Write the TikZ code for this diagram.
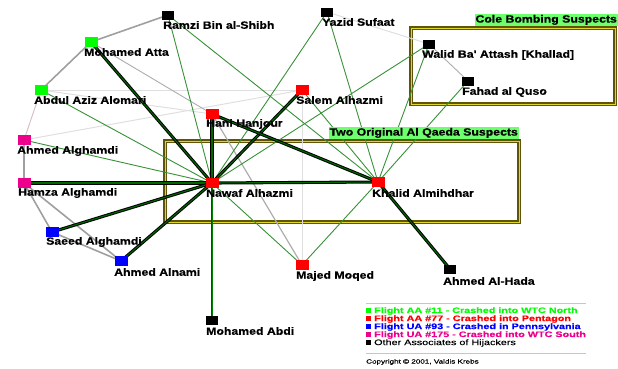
\documentclass[tikz,border=0pt]{standalone}
\usepackage{fontspec}
\setmainfont{Liberation Sans}
\newfontfamily\namefont[FakeStretch=1.17, FakeBold=0.6]{Liberation Sans Bold}
\newfontfamily\keyfont[FakeStretch=1.35, FakeBold=0.4]{Liberation Sans}
\usepackage{tikz}

\definecolor{flightgreen}{RGB}{0,255,0}
\definecolor{linkgreen}{RGB}{55,145,55}
\definecolor{boxolive}{RGB}{95,85,5}
\definecolor{tagbg}{RGB}{110,255,110}

\pgfdeclarelayer{frames}
\pgfdeclarelayer{links}
\pgfsetlayers{frames,links,main}

\tikzset{
  hij/.style={rectangle, inner sep=0pt, minimum width=13pt, minimum height=10pt, fill=#1},
  assoc/.style={rectangle, inner sep=0pt, minimum width=12pt, minimum height=9pt, fill=black},
  nm/.style={anchor=west, inner sep=0pt, font=\namefont\fontsize{10.5}{11}\selectfont},
  weak/.style={linkgreen, line width=0.9pt},
  strong/.style={draw=black, line width=1pt, double=green!40!black, double distance=1.1pt},
  mid/.style={draw=black!80, line width=0.6pt, double=green!50!black, double distance=0.9pt},
  tie/.style={gray!75, line width=1.6pt},
  thintie/.style={gray!65, line width=0.9pt},
  faint/.style={gray!25, line width=1pt},
  group/.style={draw=boxolive, line width=1.4pt, double=yellow!65!olive!80, double distance=0.9pt},
  tag/.style={fill=tagbg, inner sep=1pt, font=\namefont\fontsize{10.5}{11}\selectfont},
  keyline/.style={anchor=west, inner sep=0pt, font=\keyfont\fontsize{8}{8}\selectfont\bfseries},
  keyrule/.style={gray!45, line width=0.8pt}
}

\begin{document}
\begin{tikzpicture}[x=1pt,y=-1pt]
    \useasboundingbox (0,0) rectangle (618,368);

    % hijackers, coloured by flight
    \node [hij=flightgreen] (atta) at (91,42) {};
    \node [hij=flightgreen] (alomari) at (41,90) {};
    \node [hij=red] (hanjour) at (212,114) {};
    \node [hij=red] (salem) at (302,90) {};
    \node [hij=red] (nawaf) at (212,183) {};
    \node [hij=red] (khalid) at (378,182) {};
    \node [hij=red] (moqed) at (302,265) {};
    \node [hij=magenta] (ahmedg) at (24,140) {};
    \node [hij=magenta] (hamza) at (24,183) {};
    \node [hij=blue] (saeed) at (52,232) {};
    \node [hij=blue] (alnami) at (121,261) {};
    % associates
    \node [assoc] (ramzi) at (168,15) {};
    \node [assoc] (yazid) at (327,12) {};
    \node [assoc] (walid) at (429,44) {};
    \node [assoc] (fahad) at (468,81) {};
    \node [assoc] (abdi) at (212,320) {};
    \node [assoc] (hada) at (450,269) {};

    % names
    \node [nm] (ramzi-l) at (163,25) {Ramzi Bin al-Shibh};
    \node [nm] (yazid-l) at (322,22) {Yazid Sufaat};
    \node [nm] (atta-l) at (84,52) {Mohamed Atta};
    \node [nm] (alomari-l) at (34,100) {Abdul Aziz Alomari};
    \node [nm] (hanjour-l) at (206,124) {Hani Hanjour};
    \node [nm] (salem-l) at (296,100) {Salem Alhazmi};
    \node [nm] (ahmedg-l) at (17,151) {Ahmed Alghamdi};
    \node [nm] (hamza-l) at (18,193) {Hamza Alghamdi};
    \node [nm] (nawaf-l) at (206,193) {Nawaf Alhazmi};
    \node [nm] (khalid-l) at (372,193) {Khalid Almihdhar};
    \node [nm] (saeed-l) at (46,242) {Saeed Alghamdi};
    \node [nm] (alnami-l) at (114,272) {Ahmed Alnami};
    \node [nm] (moqed-l) at (296,276) {Majed Moqed};
    \node [nm] (abdi-l) at (206,331) {Mohamed Abdi};
    \node [nm] (hada-l) at (443,281) {Ahmed Al-Hada};
    \node [nm] (walid-l) at (422,55) {Walid Ba' Attash [Khallad]};
    \node [nm] (fahad-l) at (462,92) {Fahad al Quso};

    % suspect groups
    \begin{pgfonlayer}{frames}
    \draw [group] (165,141) rectangle (519,222);
    \draw [group] (411,28) rectangle (615,104);
    \end{pgfonlayer}
    \node [tag, anchor=south east] (alqaeda-t) at (519,139) {Two Original Al Qaeda Suspects};
    \node [tag, anchor=south east] (cole-t) at (618,26) {Cole Bombing Suspects};

    \begin{pgfonlayer}{links}
    % weak ties
    \draw [faint] (alomari.center) -- (salem.center);
    \draw [faint] (ahmedg.center) -- (salem.center);
    \draw [faint] (alomari.center) -- (hanjour.center);
    \draw [faint] (salem.center) -- (moqed.center);
    \draw [faint] (yazid.center) -- (walid.center);
    \draw [faint, red!20!gray!40] (alomari.center) -- (ahmedg.center);
    \draw [thintie] (atta.center) -- (hanjour.center);
    \draw [thintie] (walid.center) -- (fahad.center);
    \draw [thintie, line width=1.2pt] (hanjour.center) -- (moqed.center);
    % ties inside the flights
    \draw [tie] (ramzi.center) -- (atta.center);
    \draw [tie] (atta.center) -- (alomari.center);
    \draw [tie] (ahmedg.center) -- (hamza.center);
    \draw [tie] (hamza.center) -- (saeed.center);
    \draw [tie] (hamza.center) -- (alnami.center);
    \draw [tie] (saeed.center) -- (alnami.center);
    % green links
    \draw [weak] (ramzi.center) -- (nawaf.center);
    \draw [weak] (ramzi.center) -- (khalid.center);
    \draw [weak] (alomari.center) -- (nawaf.center);
    \draw [weak] (ahmedg.center) -- (nawaf.center);
    \draw [weak] (yazid.center) -- (nawaf.center);
    \draw [weak] (yazid.center) -- (khalid.center);
    \draw [weak] (walid.center) -- (nawaf.center);
    \draw [weak] (walid.center) -- (khalid.center);
    \draw [weak] (fahad.center) -- (khalid.center);
    \draw [weak] (salem.center) -- (khalid.center);
    \draw [weak] (moqed.center) -- (nawaf.center);
    \draw [weak] (moqed.center) -- (khalid.center);
    \draw [mid] (nawaf.center) -- (abdi.center);
    % strong links
    \draw [strong] (atta.center) -- (nawaf.center);
    \draw [strong] (hamza.center) -- (nawaf.center);
    \draw [strong] (saeed.center) -- (nawaf.center);
    \draw [strong] (alnami.center) -- (nawaf.center);
    \draw [strong] (hanjour.center) -- (nawaf.center);
    \draw [strong] (salem.center) -- (nawaf.center);
    \draw [strong] (nawaf.center) -- (khalid.center);
    \draw [strong] (hanjour.center) -- (khalid.center);
    \draw [strong] (khalid.center) -- (hada.center);
    \end{pgfonlayer}

    % key
    \draw [keyrule] (366,303) -- (586,303);
    \draw [keyrule] (366,353) -- (586,353);
    \node [keyline, text=flightgreen] (key-aa11) at (366,311) {\rule{5pt}{5pt} Flight AA \#11 - Crashed into WTC North};
    \node [keyline, text=red] (key-aa77) at (366,319) {\rule{5pt}{5pt} Flight AA \#77 - Crashed into Pentagon};
    \node [keyline, text=blue] (key-ua93) at (366,327) {\rule{5pt}{5pt} Flight UA \#93 - Crashed in Pennsylvania};
    \node [keyline, text=magenta] (key-ua175) at (366,335) {\rule{5pt}{5pt} Flight UA \#175 - Crashed into WTC South};
    \node [keyline, font=\keyfont\fontsize{8}{8}\selectfont] (key-other) at (366,343) {\rule{5pt}{5pt} Other Associates of Hijackers};
    \node [keyline, font=\keyfont\fontsize{6}{6}\selectfont] (copy) at (366,362) {Copyright \textcopyright\ 2001, Valdis Krebs};
\end{tikzpicture}
\end{document}
